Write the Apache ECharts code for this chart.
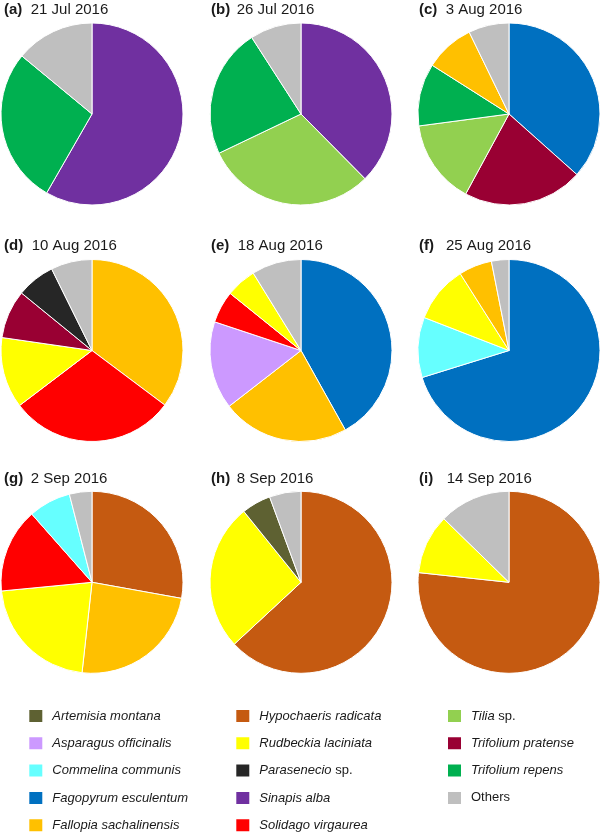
<!DOCTYPE html>
<html>
<head>
<meta charset="utf-8">
<script src="https://cdn.jsdelivr.net/npm/echarts@6/dist/echarts.min.js"></script>
<style>
html,body{margin:0;padding:0;background:#fff;}
#chart{width:602px;height:833px;}
</style>
</head>
<body>
<div id="chart"></div>
<script>
// ---- Data (percent shares, read clockwise from 12 o'clock) ----
const panelLabels = ['(a)','(b)','(c)','(d)','(e)','(f)','(g)','(h)','(i)'];
const panelDates = ['21 Jul 2016','26 Jul 2016','3 Aug 2016','10 Aug 2016','18 Aug 2016','25 Aug 2016','2 Sep 2016','8 Sep 2016','14 Sep 2016'];

const aNames = ['Sinapis alba','Trifolium repens','Others'];
const aValues = [58.3, 27.7, 14.0];
const bNames = ['Sinapis alba','Tilia sp.','Trifolium repens','Others'];
const bValues = [37.6, 30.3, 23.0, 9.1];
const cNames = ['Fagopyrum esculentum','Trifolium pratense','Tilia sp.','Trifolium repens','Fallopia sachalinensis','Others'];
const cValues = [36.6, 21.3, 15.0, 11.1, 8.8, 7.2];
const dNames = ['Fallopia sachalinensis','Solidago virgaurea','Rudbeckia laciniata','Trifolium pratense','Parasenecio sp.','Others'];
const dValues = [35.2, 29.4, 12.6, 8.6, 6.8, 7.3];
const eNames = ['Fagopyrum esculentum','Fallopia sachalinensis','Asparagus officinalis','Solidago virgaurea','Rudbeckia laciniata','Others'];
const eValues = [41.9, 22.6, 15.6, 5.7, 5.4, 8.8];
const fNames = ['Fagopyrum esculentum','Commelina communis','Rudbeckia laciniata','Fallopia sachalinensis','Others'];
const fValues = [70.2, 10.7, 10.1, 5.9, 3.1];
const gNames = ['Hypochaeris radicata','Fallopia sachalinensis','Rudbeckia laciniata','Solidago virgaurea','Commelina communis','Others'];
const gValues = [27.8, 23.9, 21.7, 15.0, 7.5, 4.0];
const hNames = ['Hypochaeris radicata','Rudbeckia laciniata','Artemisia montana','Others'];
const hValues = [63.1, 26.1, 5.2, 5.6];
const iNames = ['Hypochaeris radicata','Rudbeckia laciniata','Others'];
const iValues = [76.7, 10.6, 12.7];

const legendCol1 = ['Artemisia montana','Asparagus officinalis','Commelina communis','Fagopyrum esculentum','Fallopia sachalinensis'];
const legendCol2 = ['Hypochaeris radicata','Rudbeckia laciniata','Parasenecio sp.','Sinapis alba','Solidago virgaurea'];
const legendCol3 = ['Tilia sp.','Trifolium pratense','Trifolium repens','Others'];

// ---- Styles ----
const speciesColors = {
  'Artemisia montana':'#5E6132',
  'Asparagus officinalis':'#CC99FF',
  'Commelina communis':'#66FFFF',
  'Fagopyrum esculentum':'#0070C0',
  'Fallopia sachalinensis':'#FFC000',
  'Hypochaeris radicata':'#C55A11',
  'Rudbeckia laciniata':'#FFFF00',
  'Parasenecio sp.':'#262626',
  'Sinapis alba':'#7030A0',
  'Solidago virgaurea':'#FF0000',
  'Tilia sp.':'#92D050',
  'Trifolium pratense':'#990033',
  'Trifolium repens':'#00B050',
  'Others':'#BFBFBF'
};

const panels = [
  [aNames,aValues],[bNames,bValues],[cNames,cValues],
  [dNames,dValues],[eNames,eValues],[fNames,fValues],
  [gNames,gValues],[hNames,hValues],[iNames,iValues]
];

const centersX = [92, 301, 509];
const centersY = [114, 350.5, 582.3];
const radius = 91;
const labelX = [4, 211, 419];
const dateX = [[30.7,236.7,445.7],[31.7,237.7,446],[30.7,236.7,446.7]];
const titleCenterY = [9.8, 245.8, 479.2];
const FONT = '"Liberation Sans", Arial, Helvetica, sans-serif';

const series = panels.map((p, k) => {
  const row = Math.floor(k/3), col = k%3;
  return {
    type:'pie',
    center:[centersX[col], centersY[row]],
    radius:[0, radius],
    startAngle:90,
    clockwise:true,
    label:{show:false},
    labelLine:{show:false},
    emphasis:{disabled:true},
    animation:false,
    itemStyle:{borderColor:'#ffffff', borderWidth:1},
    data:p[0].map((n, j) => ({name:n, value:p[1][j], itemStyle:{color:speciesColors[n]}}))
  };
});

const titles = [];
panelLabels.forEach((lab, k) => {
  const row = Math.floor(k/3), col = k%3;
  titles.push({
    text:lab, left:labelX[col], top:titleCenterY[row]-9, padding:0,
    textStyle:{fontFamily:FONT, fontSize:15, fontWeight:'bold', color:'#1a1a1a', lineHeight:18}
  });
  titles.push({
    text:panelDates[k], left:dateX[row][col], top:titleCenterY[row]-9, padding:0,
    textStyle:{fontFamily:FONT, fontSize:15, fontWeight:'normal', color:'#1a1a1a', lineHeight:18}
  });
});

function legendFormatter(name){
  if (name === 'Others') return name;
  if (name.endsWith(' sp.')) return '{i|' + name.slice(0, -4) + '} sp.';
  return '{i|' + name + '}';
}

function makeLegend(names, left){
  return {
    data:names, orient:'vertical', left:left, top:708, width:200, height:160, padding:0,
    itemWidth:15, itemHeight:14, itemGap:11.3, icon:'rect',
    selectedMode:false,
    formatter:legendFormatter,
    textStyle:{fontFamily:FONT, fontSize:13, color:'#1a1a1a', lineHeight:14, padding:[0,0,0,4],
      rich:{i:{fontFamily:FONT, fontSize:13, fontStyle:'italic', color:'#1a1a1a', lineHeight:14}}}
  };
}

const chart = echarts.init(document.getElementById('chart'), null, {renderer:'canvas'});
chart.setOption({
  backgroundColor:'#ffffff',
  animation:false,
  title:titles,
  legend:[makeLegend(legendCol1, 27.3), makeLegend(legendCol2, 234.3), makeLegend(legendCol3, 446)],
  series:series
});
</script>
</body>
</html>
